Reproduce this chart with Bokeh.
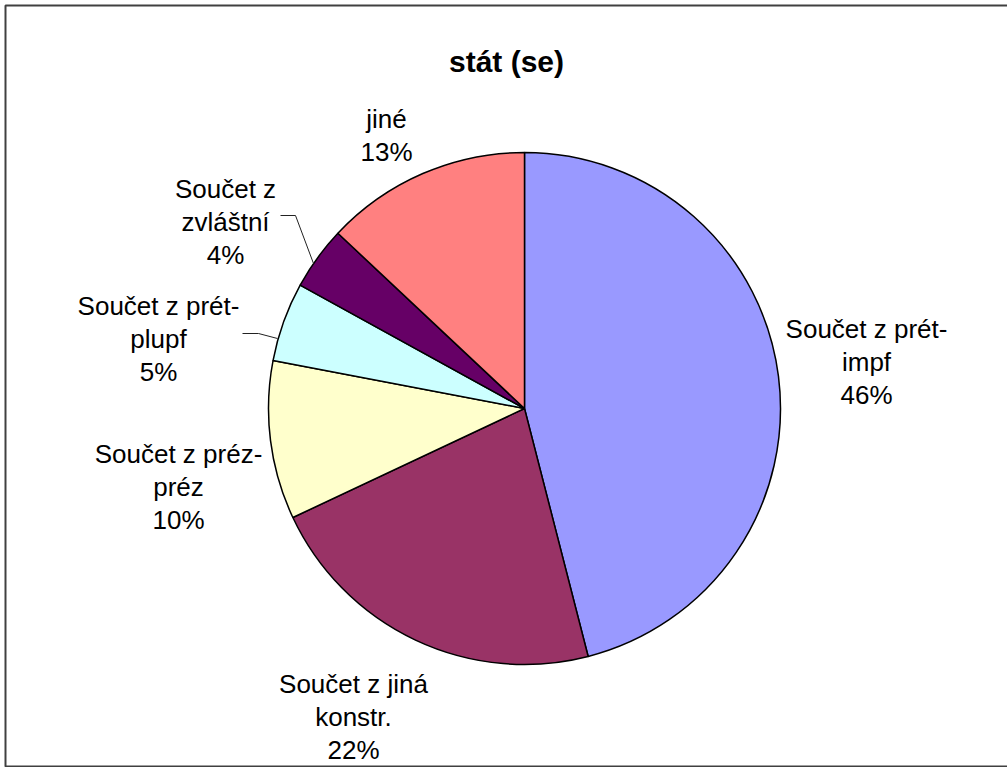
import numpy as np
from bokeh.plotting import figure
from bokeh.models import Range1d, ColumnDataSource
from bokeh.core.properties import value
from bokeh.embed import file_html
from bokeh.resources import INLINE

# ---- data -------------------------------------------------------------
chart_title = "stát (se)"
categories = [
    "Součet z prét-\nimpf",
    "Součet z jiná\nkonstr.",
    "Součet z préz-\npréz",
    "Součet z prét-\nplupf",
    "Součet z\nzvláštní",
    "jiné",
]
shares = [46, 22, 10, 5, 4, 13]
colors = ["#9999FF", "#993366", "#FFFFCC", "#CCFFFF", "#660066", "#FF8080"]

# ---- layout (screen pixels, y measured downward) ---------------------
W, H = 1007, 767
CX, CY, R = 524, 408, 256
label_anchor = [(866, 328), (353, 683), (178, 453), (158, 305), (225, 188), (386, 118)]
line_gap = 33
leaders = [
    [(280, 215), (295, 215), (313, 263)],   # zvláštní
    [(242, 333), (258, 333), (277, 338)],   # prét-plupf
]
FONT = "Liberation Sans"


def fy(y):
    return H - y


# slice angles: clockwise from 12 o'clock
frac = np.array(shares, dtype=float) / sum(shares)
ends = np.cumsum(frac)
starts = ends - frac
src = ColumnDataSource(dict(
    start=np.pi / 2 - ends * 2 * np.pi,
    end=np.pi / 2 - starts * 2 * np.pi,
    color=colors,
))

p = figure(width=W, height=H, x_range=Range1d(0, W), y_range=Range1d(0, H),
           output_backend="svg", toolbar_location=None, min_border=0,
           x_axis_type=None, y_axis_type=None, outline_line_color=None,
           background_fill_color="white", border_fill_color="white")
p.xgrid.visible = False
p.ygrid.visible = False

# outer chart frame
p.quad(left=5, right=1010, top=fy(5), bottom=fy(766),
       fill_color=None, line_color="#404040", line_width=2)

# pie
p.wedge(x=CX, y=fy(CY), radius=R, start_angle="start", end_angle="end",
        fill_color="color", line_color="black", line_width=1.5, source=src)

# leader lines
for pts in leaders:
    p.line([q[0] for q in pts], [fy(q[1]) for q in pts],
           line_color="#222222", line_width=1)

# data labels: category name lines followed by the percentage
lx, ly, lt = [], [], []
for cat, v, (ax, ay) in zip(categories, shares, label_anchor):
    lines = cat.split("\n") + [f"{v}%"]
    for i, ln in enumerate(lines):
        lx.append(ax)
        ly.append(fy(ay + i * line_gap))
        lt.append(ln)
p.text(x=lx, y=ly, text=lt, text_align="center", text_baseline="alphabetic",
       text_font=value(FONT), text_font_size="26px", text_color="black")

# title
p.text(x=[506], y=[fy(61)], text=[chart_title], text_align="center",
       text_baseline="alphabetic", text_font=value(FONT),
       text_font_size="30px", text_font_style="bold", text_color="black")

open("out.html", "w").write(file_html(p, INLINE))
